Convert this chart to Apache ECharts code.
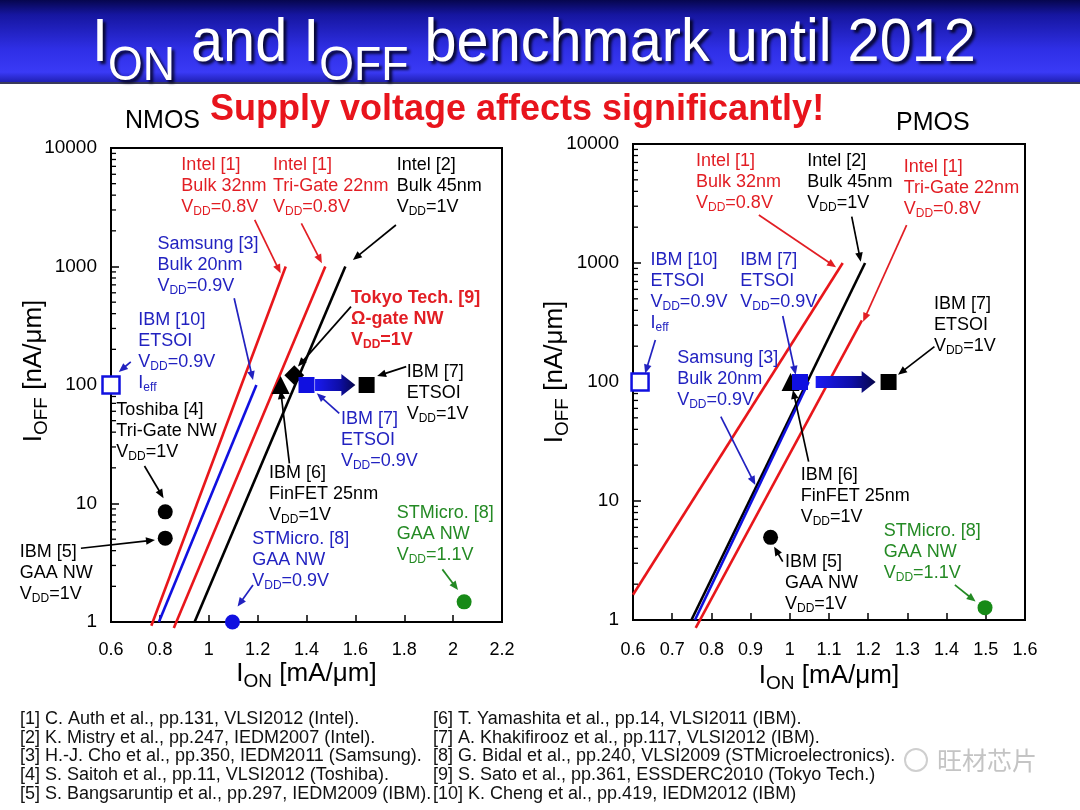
<!DOCTYPE html>
<html>
<head>
<meta charset="utf-8">
<script src="https://cdn.jsdelivr.net/npm/echarts@6/dist/echarts.min.js"></script>
<style>html,body{margin:0;padding:0;background:#fff;}#chart{width:1080px;height:810px;}</style>
</head>
<body>
<div id="chart"></div>
<script>
// ================= DATA =================
// axis ranges
const nmosX = [0.6, 2.2, 0.2];
const pmosX = [0.6, 1.6, 0.1];
const ioffRange = [1, 10000];
const minorMantissas = [2, 3, 4, 5, 6, 7, 8, 9];
const minorDecades = [1, 10, 100, 1000];

// NMOS trend lines [Ion mA/um, Ioff nA/um]
const nmosIntel32 = [[0.765, 0.93], [1.315, 1000]];
const nmosIntel22 = [[0.857, 0.89], [1.477, 1000]];
const nmosSamsung = [[0.796, 1], [1.195, 100]];
const nmosIntel45 = [[0.942, 1], [1.559, 1000]];
// NMOS points
const nmosIBM10 = [[0.6, 100]];
const nmosToshiba = [[0.822, 8.5]];
const nmosIBM5 = [[0.822, 5.1]];
const nmosIBM6 = [[1.294, 100]];
const nmosTokyo = [[1.35, 121]];
const nmosIBM7a = [[1.40, 100]];
const nmosIBM7b = [[1.646, 100]];
const nmosST09 = [[1.097, 1]];
const nmosST11 = [[2.045, 1.48]];
const nmosShift = [[1.435, 1.60, 100]];

// PMOS trend lines
const pmosIntel32 = [[0.6, 1.63], [1.135, 1000]];
const pmosIntel45 = [[0.749, 1], [1.192, 1000]];
const pmosSamsung = [[0.758, 1], [1.048, 100]];
const pmosIntel22 = [[0.760, 0.86], [1.184, 330]];
// PMOS points
const pmosIBM10 = [[0.618, 100]];
const pmosIBM6 = [[1.002, 100]];
const pmosIBM7a = [[1.026, 100]];
const pmosIBM7b = [[1.252, 100]];
const pmosIBM5 = [[0.951, 4.95]];
const pmosST11 = [[1.498, 1.27]];
const pmosShift = [[1.066, 1.219, 100]];

// annotations [x, y, text, colour, bold]
const nmosNotes = [
  [0.890, 8730, 'Intel [1]\nBulk 32nm\nV{s|DD}=0.8V', 'red'],
  [1.265, 8730, 'Intel [1]\nTri-Gate 22nm\nV{s|DD}=0.8V', 'red'],
  [1.771, 8730, 'Intel [2]\nBulk 45nm\nV{s|DD}=1V', 'black'],
  [0.792, 1875, 'Samsung [3]\nBulk 20nm\nV{s|DD}=0.9V', 'blue'],
  [0.714, 427, 'IBM [10]\nETSOI\nV{s|DD}=0.9V\nI{s|eff}', 'blue'],
  [1.584, 655, 'Tokyo Tech. [9]\nΩ-gate NW\nV{s|DD}=1V', 'red', true],
  [1.812, 155, 'IBM [7]\nETSOI\nV{s|DD}=1V', 'black'],
  [0.624, 74, 'Toshiba [4]\nTri-Gate NW\nV{s|DD}=1V', 'black'],
  [1.543, 63, 'IBM [7]\nETSOI\nV{s|DD}=0.9V', 'blue'],
  [1.249, 22.1, 'IBM [6]\nFinFET 25nm\nV{s|DD}=1V', 'black'],
  [1.180, 6.11, 'STMicro. [8]\nGAA NW\nV{s|DD}=0.9V', 'blue'],
  [1.771, 10.15, 'STMicro. [8]\nGAA NW\nV{s|DD}=1.1V', 'green'],
  [0.229, 4.75, 'IBM [5]\nGAA NW\nV{s|DD}=1V', 'black']
];
const pmosNotes = [
  [0.762, 8730, 'Intel [1]\nBulk 32nm\nV{s|DD}=0.8V', 'red'],
  [1.046, 8730, 'Intel [2]\nBulk 45nm\nV{s|DD}=1V', 'black'],
  [1.292, 7780, 'Intel [1]\nTri-Gate 22nm\nV{s|DD}=0.8V', 'red'],
  [0.646, 1285, 'IBM [10]\nETSOI\nV{s|DD}=0.9V\nI{s|eff}', 'blue'],
  [0.875, 1285, 'IBM [7]\nETSOI\nV{s|DD}=0.9V', 'blue'],
  [1.369, 549, 'IBM [7]\nETSOI\nV{s|DD}=1V', 'black'],
  [0.714, 193, 'Samsung [3]\nBulk 20nm\nV{s|DD}=0.9V', 'blue'],
  [1.029, 20.1, 'IBM [6]\nFinFET 25nm\nV{s|DD}=1V', 'black'],
  [0.989, 3.73, 'IBM [5]\nGAA NW\nV{s|DD}=1V', 'black'],
  [1.241, 6.79, 'STMicro. [8]\nGAA NW\nV{s|DD}=1.1V', 'green']
];
// pointer arrows [from, to, colour]
const nmosArrows = [
  [[1.188, 2470], [1.294, 877], 'red'],
  [[1.379, 2315], [1.463, 1064], 'red'],
  [[1.766, 2240], [1.590, 1135], 'black'],
  [[1.104, 540], [1.181, 110], 'blue'],
  [[0.681, 157], [0.632, 129], 'blue'],
  [[1.582, 458], [1.365, 143], 'black'],
  [[1.808, 143], [1.689, 119], 'black'],
  [[0.737, 20.7], [0.815, 11.1], 'black'],
  [[1.534, 57.7], [1.442, 85.1], 'blue'],
  [[1.330, 21.8], [1.294, 90.7], 'black'],
  [[0.477, 4.19], [0.780, 4.92], 'black'],
  [[1.181, 2.05], [1.118, 1.35], 'blue'],
  [[1.956, 2.78], [2.020, 1.86], 'green']
];
const pmosArrows = [
  [[0.921, 2530], [1.118, 920], 'red'],
  [[1.158, 2450], [1.181, 1026], 'black'],
  [[1.298, 2085], [1.187, 321], 'red'],
  [[0.657, 225], [0.631, 118], 'blue'],
  [[0.982, 359], [1.015, 115], 'blue'],
  [[1.369, 198], [1.276, 115], 'black'],
  [[0.824, 51.1], [0.912, 13.6], 'blue'],
  [[1.048, 21.4], [1.008, 85.7], 'black'],
  [[0.982, 3.09], [0.960, 4.13], 'black'],
  [[1.421, 1.97], [1.474, 1.43], 'green']
];

const titleText = 'I{s|ON} and I{s|OFF} benchmark until 2012';
const headline = 'Supply voltage affects significantly!';
const panelNames = ['NMOS', 'PMOS'];
const refsLeft = [
  '[1] C. Auth et al., pp.131, VLSI2012 (Intel).',
  '[2] K. Mistry et al., pp.247, IEDM2007 (Intel).',
  '[3] H.-J. Cho et al., pp.350, IEDM2011 (Samsung).',
  '[4] S. Saitoh et al., pp.11, VLSI2012 (Toshiba).',
  '[5] S. Bangsaruntip et al., pp.297, IEDM2009 (IBM).'
];
const refsRight = [
  '[6] T. Yamashita et al., pp.14, VLSI2011 (IBM).',
  '[7] A. Khakifirooz et al., pp.117, VLSI2012 (IBM).',
  '[8] G. Bidal et al., pp.240, VLSI2009 (STMicroelectronics).',
  '[9] S. Sato et al., pp.361, ESSDERC2010 (Tokyo Tech.)',
  '[10] K. Cheng et al., pp.419, IEDM2012 (IBM)'
];

// ================= STYLE =================
const FONT = '"Liberation Sans", Arial, Helvetica, sans-serif';
const COL = {
  red: '#e21e24', blue: '#2222c0', green: '#248a24', black: '#000000',
  redLine: '#e8161b', blueLine: '#1010e0', greenMark: '#178a17'
};

const chart = echarts.init(document.getElementById('chart'));

function subRich(color, bold, size, pad, lh) {
  return { s: { fontSize: size, fontFamily: FONT, color: color, fontWeight: bold ? 'bold' : 'normal',
    verticalAlign: 'top', padding: [pad, 0, 0, 0], lineHeight: lh, opacity: 1 } };
}

function lineSeries(ax, data, color) {
  return { type: 'line', xAxisIndex: ax, yAxisIndex: ax, data: data, showSymbol: false, symbol: 'none',
    lineStyle: { color: color, width: 2.6, opacity: 1 }, clip: false, silent: true, z: 3, animation: false };
}
function pointSeries(ax, data, symbol, size, color, extra) {
  return Object.assign({ type: 'scatter', xAxisIndex: ax, yAxisIndex: ax, data: data, symbol: symbol,
    symbolSize: size, itemStyle: { color: color, opacity: 1 }, clip: false, silent: true, z: 6, animation: false }, extra || {});
}
function noteSeries(ax, notes) {
  return { type: 'scatter', xAxisIndex: ax, yAxisIndex: ax, clip: false, silent: true, z: 10, animation: false,
    symbolSize: 1, itemStyle: { color: 'rgba(0,0,0,0)', opacity: 1 },
    data: notes.map(n => ({ value: [n[0], n[1]], label: {
      show: true, position: [0, 0], align: 'left', verticalAlign: 'top', formatter: n[2], opacity: 1,
      color: COL[n[3]], fontSize: 18, lineHeight: 21, fontFamily: FONT, fontWeight: n[4] ? 'bold' : 'normal',
      rich: subRich(COL[n[3]], n[4], 12, 9, 21) } })) };
}
function arrowSeries(ax, arrows) {
  return { type: 'custom', xAxisIndex: ax, yAxisIndex: ax, silent: true, z: 9, clip: false, animation: false,
    data: arrows.map(a => [a[0][0], a[0][1], a[1][0], a[1][1]]),
    encode: { x: [0, 2], y: [1, 3] },
    renderItem: function (params, api) {
      const p1 = api.coord([api.value(0), api.value(1)]);
      const p2 = api.coord([api.value(2), api.value(3)]);
      const col = COL[arrows[params.dataIndex][2]];
      const dx = p2[0] - p1[0], dy = p2[1] - p1[1], len = Math.hypot(dx, dy) || 1;
      const ux = dx / len, uy = dy / len, hl = 9, hw = 3.8;
      const bx = p2[0] - ux * hl, by = p2[1] - uy * hl;
      return { type: 'group', children: [
        { type: 'line', shape: { x1: p1[0], y1: p1[1], x2: bx + ux, y2: by + uy }, style: { stroke: col, lineWidth: 1.7 } },
        { type: 'polygon', shape: { points: [[p2[0], p2[1]], [bx - uy * hw, by + ux * hw], [bx + uy * hw, by - ux * hw]] }, style: { fill: col } }
      ] };
    } };
}
function shiftSeries(ax, data) {
  return { type: 'custom', xAxisIndex: ax, yAxisIndex: ax, silent: true, z: 5, clip: false, animation: false,
    data: data, encode: { x: [0, 1], y: 2 },
    renderItem: function (params, api) {
      const a = api.coord([api.value(0), api.value(2)]);
      const b = api.coord([api.value(1), api.value(2)]);
      const sh = 6, hh = 11, hl = 14, neck = b[0] - hl;
      return { type: 'polygon', shape: { points: [[a[0], a[1] - sh], [neck, a[1] - sh], [neck, a[1] - hh], [b[0], a[1]],
          [neck, a[1] + hh], [neck, a[1] + sh], [a[0], a[1] + sh]] },
        style: { fill: new echarts.graphic.LinearGradient(0, 0, 1, 0, [
          { offset: 0, color: '#1a1af2' }, { offset: 0.6, color: '#0e0ea8' }, { offset: 1, color: '#06064a' }]) } };
    } };
}
function minorTickSeries(ax, xmin) {
  const vals = [];
  minorDecades.forEach(d => minorMantissas.forEach(m => vals.push([xmin, m * d])));
  return { type: 'custom', xAxisIndex: ax, yAxisIndex: ax, silent: true, z: 4, clip: false, animation: false,
    data: vals, renderItem: function (params, api) {
      const p = api.coord([api.value(0), api.value(1)]);
      return { type: 'line', shape: { x1: p[0], y1: p[1], x2: p[0] + 5, y2: p[1] }, style: { stroke: '#000', lineWidth: 1.3 } };
    } };
}

function xAxis(ax, range, gap, margin) {
  return { gridIndex: ax, type: 'value', min: range[0], max: range[1], interval: range[2],
    axisLine: { show: true, onZero: false, lineStyle: { color: '#000', width: 2 } },
    axisTick: { show: true, inside: true, length: 7, lineStyle: { color: '#000', width: 1.5 } },
    axisLabel: { color: '#000', fontSize: 18, fontFamily: FONT, margin: margin },
    splitLine: { show: false },
    name: 'I{s|ON} [mA/μm]', nameLocation: 'middle', nameGap: gap, nameMoveOverlap: false,
    nameTextStyle: { color: '#000', fontSize: 26, fontFamily: FONT, lineHeight: 30, rich: subRich('#000', false, 19, 13, 30) } };
}
function yAxis(ax, gap, shift) {
  return { gridIndex: ax, type: 'log', logBase: 10, min: ioffRange[0], max: ioffRange[1],
    axisLine: { show: true, onZero: false, lineStyle: { color: '#000', width: 2 } },
    axisTick: { show: true, inside: true, length: 8, lineStyle: { color: '#000', width: 1.5 } },
    axisLabel: { color: '#000', fontSize: 19, fontFamily: FONT, margin: 14, formatter: v => String(Math.round(v)) },
    splitLine: { show: false }, minorTick: { show: false },
    name: 'I{s|OFF} [nA/μm]', nameLocation: 'middle', nameGap: gap, nameRotate: 90, nameMoveOverlap: false,
    nameTextStyle: { color: '#000', fontSize: 26, fontFamily: FONT, lineHeight: 30, padding: [0, 0, 0, shift],
      rich: subRich('#000', false, 19, 13, 30) } };
}

const graphics = [
  { type: 'rect', shape: { x: 0, y: 0, width: 1080, height: 82 }, silent: true,
    style: { fill: new echarts.graphic.LinearGradient(0, 0, 0, 1, [
      { offset: 0, color: '#06064e' }, { offset: 0.18, color: '#1616a0' }, { offset: 0.6, color: '#2f2fe6' },
      { offset: 0.88, color: '#3a3af6' }, { offset: 1, color: '#2020b4' }]) } },
  { type: 'rect', shape: { x: 0, y: 82, width: 1080, height: 2 }, silent: true, style: { fill: '#3a3a5a' } },
  { type: 'text', x: 92, y: 8.5, scaleX: 0.93, silent: true, z: 20,
    style: { text: titleText, x: 0, y: 0, verticalAlign: 'top', align: 'left', fill: '#ffffff',
      fontSize: 62, fontFamily: FONT, lineHeight: 70,
      textShadowColor: 'rgba(0,0,20,0.85)', textShadowBlur: 3, textShadowOffsetX: 3, textShadowOffsetY: 3,
      rich: { s: { fontSize: 48, fontFamily: FONT, fill: '#ffffff', verticalAlign: 'top', padding: [34, 0, 0, 0], lineHeight: 70,
        textShadowColor: 'rgba(0,0,20,0.85)', textShadowBlur: 3, textShadowOffsetX: 3, textShadowOffsetY: 3 } } } },
  { type: 'text', x: 210, y: 110, silent: true,
    style: { text: headline, fill: '#e8141c', fontSize: 36, fontWeight: 'bold', fontFamily: FONT, verticalAlign: 'middle', align: 'left' } },
  { type: 'text', x: 125, y: 121, silent: true,
    style: { text: panelNames[0], fill: '#000', fontSize: 25, fontFamily: FONT, verticalAlign: 'middle', align: 'left' } },
  { type: 'text', x: 896, y: 123, silent: true,
    style: { text: panelNames[1], fill: '#000', fontSize: 25, fontFamily: FONT, verticalAlign: 'middle', align: 'left' } },
  { type: 'text', x: 937, y: 760, silent: true,
    style: { text: '旺材芯片', fill: '#c4c4c4', fontSize: 25, fontFamily: '"Noto Sans CJK SC", sans-serif', verticalAlign: 'middle', align: 'left' } },
  { type: 'circle', shape: { cx: 916, cy: 760, r: 11 }, silent: true, style: { fill: 'none', stroke: '#cfcfcf', lineWidth: 2 } }
];
refsLeft.forEach((t, i) => graphics.push({ type: 'text', x: 20, y: 719 + 18.7 * i, silent: true,
  style: { text: t, fill: '#111', fontSize: 18, fontFamily: FONT, verticalAlign: 'middle', align: 'left' } }));
refsRight.forEach((t, i) => graphics.push({ type: 'text', x: 433, y: 719 + 18.7 * i, silent: true,
  style: { text: t, fill: '#111', fontSize: 18, fontFamily: FONT, verticalAlign: 'middle', align: 'left' } }));

const option = {
  backgroundColor: '#ffffff',
  animation: false,
  textStyle: { fontFamily: FONT },
  grid: [
    { left: 111, top: 148, width: 391, height: 474, show: true, borderColor: '#000', borderWidth: 2, backgroundColor: 'transparent' },
    { left: 633, top: 144, width: 392, height: 476, show: true, borderColor: '#000', borderWidth: 2, backgroundColor: 'transparent' }
  ],
  xAxis: [xAxis(0, nmosX, 37, 19), xAxis(1, pmosX, 41, 21)],
  yAxis: [yAxis(0, 62, 28), yAxis(1, 63, 20)],
  graphic: graphics,
  series: [
    minorTickSeries(0, nmosX[0]),
    minorTickSeries(1, pmosX[0]),
    lineSeries(0, nmosIntel32, COL.redLine),
    lineSeries(0, nmosIntel22, COL.redLine),
    lineSeries(0, nmosSamsung, COL.blueLine),
    lineSeries(0, nmosIntel45, '#000'),
    lineSeries(1, pmosIntel32, COL.redLine),
    lineSeries(1, pmosIntel22, COL.redLine),
    lineSeries(1, pmosIntel45, '#000'),
    lineSeries(1, pmosSamsung, COL.blueLine),
    shiftSeries(0, nmosShift),
    shiftSeries(1, pmosShift),
    pointSeries(0, nmosIBM10, 'rect', 17, '#fff', { itemStyle: { color: '#fff', borderColor: COL.blueLine, borderWidth: 2.5, opacity: 1 } }),
    pointSeries(0, nmosToshiba, 'circle', 15, '#000'),
    pointSeries(0, nmosIBM5, 'circle', 15, '#000'),
    pointSeries(0, nmosIBM6, 'triangle', 18, '#000'),
    pointSeries(0, nmosTokyo, 'rect', 14, '#000', { symbolRotate: 45 }),
    pointSeries(0, nmosIBM7a, 'rect', 16, COL.blueLine),
    pointSeries(0, nmosIBM7b, 'rect', 16, '#000'),
    pointSeries(0, nmosST09, 'circle', 15, COL.blueLine),
    pointSeries(0, nmosST11, 'circle', 15, COL.greenMark),
    pointSeries(1, pmosIBM10, 'rect', 17, '#fff', { itemStyle: { color: '#fff', borderColor: COL.blueLine, borderWidth: 2.5, opacity: 1 } }),
    pointSeries(1, pmosIBM6, 'triangle', 18, '#000'),
    pointSeries(1, pmosIBM7a, 'rect', 16, COL.blueLine),
    pointSeries(1, pmosIBM7b, 'rect', 16, '#000'),
    pointSeries(1, pmosIBM5, 'circle', 15, '#000'),
    pointSeries(1, pmosST11, 'circle', 15, COL.greenMark),
    arrowSeries(0, nmosArrows),
    arrowSeries(1, pmosArrows),
    noteSeries(0, nmosNotes),
    noteSeries(1, pmosNotes)
  ]
};
chart.setOption(option);
</script>
</body>
</html>
